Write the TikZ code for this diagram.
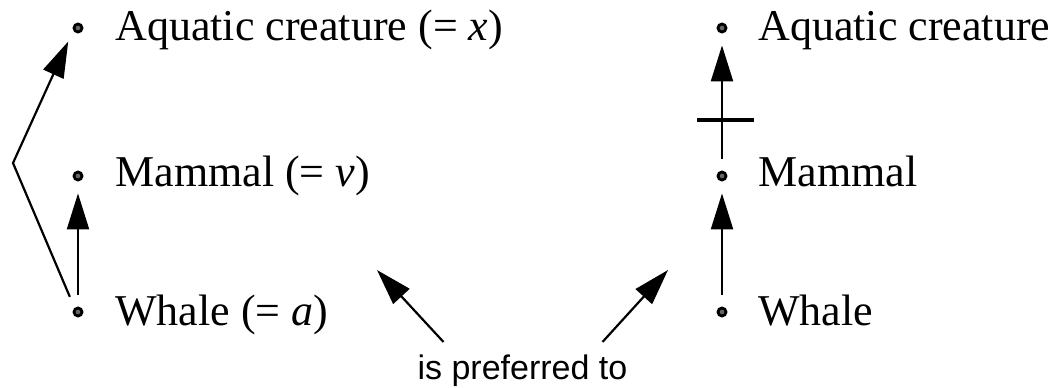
\documentclass[tikz,border=0pt]{standalone}
\usepackage{fontspec}
\setmainfont{Liberation Serif}
\newfontfamily\prefsans{Liberation Sans}
\usepackage{tikz}
\usetikzlibrary{arrows.meta}
\tikzset{
  isaarrow/.style={-{Triangle[length=18pt, width=11pt]}, line width=1.1pt},
  gaparrow/.style={isaarrow, shorten <=6pt, shorten >=6pt},
  dotnode/.style={circle, draw=black, line width=1.4pt, fill=black!60, minimum size=4pt, inner sep=0pt},
  term/.style={font=\fontsize{22}{26}\selectfont, inner sep=0pt, anchor=base west},
  prefer/.style={font=\prefsans\fontsize{17}{20}\selectfont, inner sep=0pt, anchor=base},
  crossbar/.style={fill, minimum width=28.5pt, minimum height=2.2pt, inner sep=0pt}
}

\begin{document}
\begin{tikzpicture}[x=0.5pt, y=-0.5pt]
  \useasboundingbox (0,0) rectangle (1064,387);
  \node[dotnode] (la) at (78,28) {};
  \node[dotnode] (lm) at (78,176) {};
  \node[dotnode] (lw) at (78,312) {};
  \node[term] (lat) at (115,40) {Aquatic creature (= \textit{x})};
  \node[term] (lmt) at (115,186) {Mammal (= \textit{v})};
  \node[term] (lwt) at (115,325) {Whale (= \textit{a})};
  \coordinate (lbend) at (13,163);
  \draw[gaparrow] (lw) -- (lm);
  \draw[gaparrow] (lw.130) -- (lbend) -- (la.208);

  \node[dotnode] (ra) at (722,28) {};
  \node[dotnode] (rm) at (722,176) {};
  \node[dotnode] (rw) at (722,312) {};
  \node[term] (rat) at (758,40) {Aquatic creature};
  \node[term] (rmt) at (758,186) {Mammal};
  \node[term] (rwt) at (758,325) {Whale};
  \draw[gaparrow] (rw) -- (rm);
  \draw[gaparrow] (rm) -- node[crossbar, pos=0.37, xshift=1.75pt] (cut) {} (ra);

  \node[prefer] (pref) at (522.5,379) {is preferred to};
  \coordinate (lefttip) at (377,270);
  \coordinate (righttip) at (668,270);
  \draw[isaarrow] ([shift={(-39.5pt,6pt)}]pref.north) -- (lefttip);
  \draw[isaarrow] ([shift={(40pt,6pt)}]pref.north) -- (righttip);
\end{tikzpicture}
\end{document}
